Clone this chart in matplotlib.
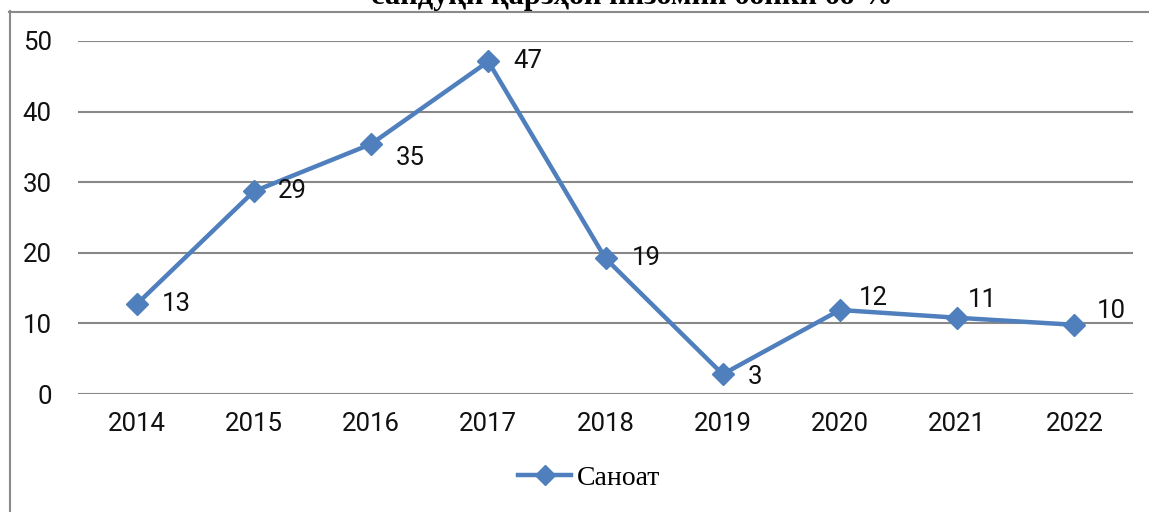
import matplotlib
matplotlib.use("Agg")
import matplotlib.pyplot as plt
from matplotlib.lines import Line2D

years = ["2014", "2015", "2016", "2017", "2018", "2019", "2020", "2021", "2022"]
values = [12.7, 28.7, 35.4, 47.1, 19.2, 2.8, 11.9, 10.8, 9.8]
series_name = "Саноат"
title = "сандуқи қарзҳои низомии бонки бо %"
yticks = [0, 10, 20, 30, 40, 50]

# label offsets in pixels (dx, dy)
label_offsets = [(25, 0), (24, 0), (25, -14), (25, 0), (26, 0), (25, -3), (19, 12), (11, 18), (22, 14)]

W, H = 1149, 512
fig = plt.figure(figsize=(W / 100, H / 100), dpi=100)
fig.patch.set_facecolor("white")

def fx(px):
    return px / W

def fy(py):
    return 1 - py / H

ax = fig.add_axes([fx(78), fy(394), fx(1133) - fx(78), fy(41) - fy(394)])
ax.set_facecolor("white")
for s in ax.spines.values():
    s.set_visible(False)

x = list(range(len(years)))
color = "#4F7FBC"
ax.plot(x, values, color=color, linewidth=3.2, marker="D", markersize=11,
        markerfacecolor=color, markeredgecolor=color, zorder=3, solid_joinstyle="miter")

ax.set_xlim(-0.5, len(years) - 0.5)
ax.set_ylim(0, 50)
ax.set_yticks(yticks)
ax.set_yticklabels([str(t) for t in yticks])
ax.set_xticks(x)
ax.set_xticklabels(years)
ax.grid(axis="y", color="#888888", linewidth=1.5)
ax.set_axisbelow(True)
ax.tick_params(axis="both", length=0, labelsize=18.5, colors="#111111")
ax.tick_params(axis="x", pad=13)
ax.tick_params(axis="y", pad=19)
for lab in ax.get_xticklabels() + ax.get_yticklabels():
    lab.set_fontfamily("Roboto")

for xi, v, (dx, dy) in zip(x, values, label_offsets):
    ax.annotate(f"{v:.0f}", (xi, v), xytext=(dx, dy), textcoords="offset pixels",
                ha="left", va="center", fontsize=18.5, family="Roboto", color="#111111")

# title, partially cut at the top as in the reference
fig.text(fx(632), fy(4), title, ha="center", va="baseline", fontsize=22,
         fontweight="bold", family="Liberation Serif", color="black")

# outer frame
fig.add_artist(Line2D([fx(9.5), fx(9.5)], [fy(11), 0], transform=fig.transFigure,
                      color="#8a8a8a", linewidth=1.5))
fig.add_artist(Line2D([fx(9), 1], [fy(11.5), fy(11.5)], transform=fig.transFigure,
                      color="#8a8a8a", linewidth=1.5))

# legend
handle = Line2D([], [], color=color, linewidth=3.2, marker="D", markersize=10,
                markerfacecolor=color, markeredgecolor=color)
leg = fig.legend([handle], [series_name], loc="center", bbox_to_anchor=(fx(589), fy(478)),
                 frameon=False, handlelength=1.9, handletextpad=0.2,
                 prop={"family": "Liberation Serif", "size": 20})

fig.savefig("out.png", dpi=100, facecolor="white")
